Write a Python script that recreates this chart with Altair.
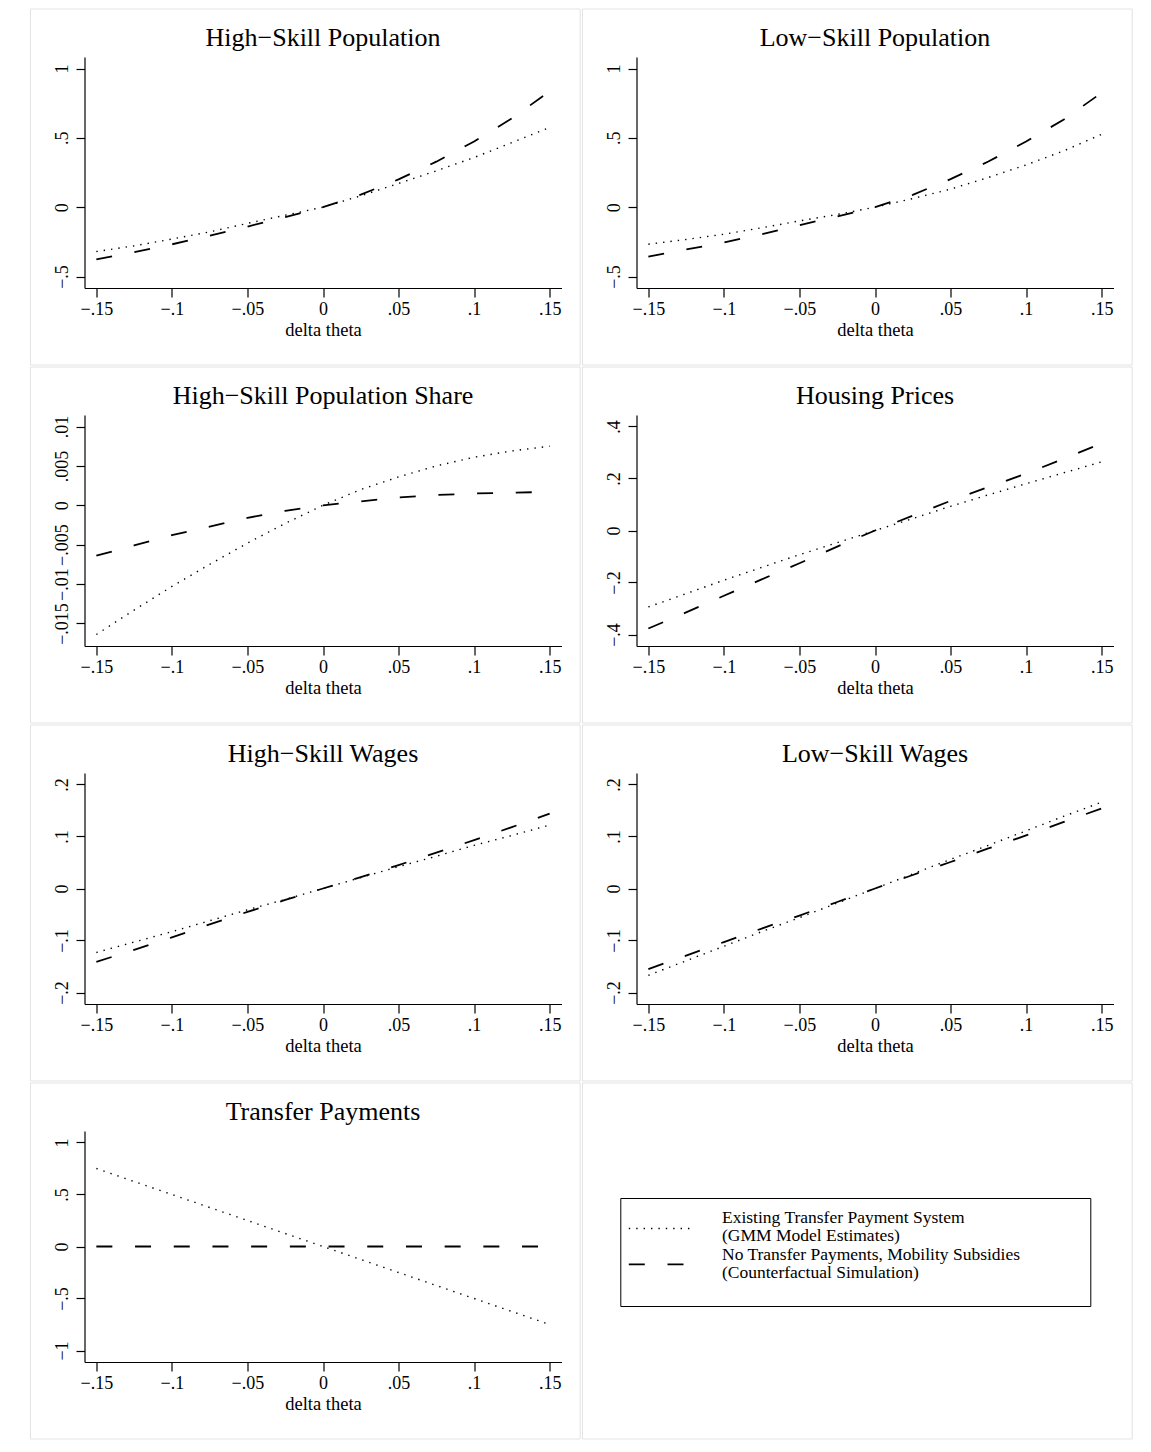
import altair as alt
import pandas as pd

FONT = "Liberation Serif"
M = "\u2212"

# ---------------- data ----------------
x_values = [-0.15, -0.125, -0.1, -0.075, -0.05, -0.025, 0.0,
            0.025, 0.05, 0.075, 0.1, 0.125, 0.15]
x_ticks = [-0.15, -0.1, -0.05, 0.0, 0.05, 0.1, 0.15]

legend_text = [
    "Existing Transfer Payment System\n(GMM Model Estimates)",
    "No Transfer Payments, Mobility Subsidies\n(Counterfactual Simulation)",
]

panel_titles = [
    f"High{M}Skill Population",
    f"Low{M}Skill Population",
    f"High{M}Skill Population Share",
    "Housing Prices",
    f"High{M}Skill Wages",
    f"Low{M}Skill Wages",
    "Transfer Payments",
]

hs_pop_gmm = [-0.320, -0.279, -0.230, -0.178, -0.117, -0.058, 0.0,
              0.082, 0.171, 0.262, 0.358, 0.466, 0.575]
hs_pop_cf = [-0.377, -0.325, -0.268, -0.206, -0.140, -0.072, 0.0,
             0.090, 0.200, 0.328, 0.474, 0.640, 0.835]

ls_pop_gmm = [-0.267, -0.233, -0.195, -0.149, -0.099, -0.053, 0.0,
              0.062, 0.130, 0.214, 0.305, 0.406, 0.526]
ls_pop_cf = [-0.356, -0.305, -0.255, -0.195, -0.130, -0.067, 0.0,
             0.089, 0.202, 0.329, 0.474, 0.632, 0.825]

share_gmm = [-0.0164, -0.0133, -0.0103, -0.0075, -0.0048, -0.0023, 0.0,
             0.0020, 0.0036, 0.0050, 0.0061, 0.0069, 0.0075]
share_cf = [-0.0064, -0.0051, -0.0038, -0.0027, -0.0016, -0.0007, 0.0,
            0.0005, 0.0010, 0.0013, 0.0015, 0.0016, 0.0017]

housing_gmm = [-0.294, -0.243, -0.191, -0.142, -0.093, -0.047, 0.0,
               0.046, 0.093, 0.137, 0.180, 0.222, 0.264]
housing_cf = [-0.377, -0.315, -0.251, -0.188, -0.126, -0.062, 0.0,
              0.057, 0.114, 0.167, 0.219, 0.276, 0.335]

hs_wage_gmm = [-0.123, -0.103, -0.083, -0.062, -0.041, -0.021, 0.0,
               0.021, 0.042, 0.062, 0.083, 0.102, 0.122]
hs_wage_cf = [-0.141, -0.118, -0.094, -0.069, -0.045, -0.022, 0.0,
              0.022, 0.045, 0.069, 0.093, 0.118, 0.144]

ls_wage_gmm = [-0.167, -0.139, -0.111, -0.083, -0.056, -0.028, 0.0,
               0.028, 0.056, 0.083, 0.111, 0.139, 0.166]
ls_wage_cf = [-0.155, -0.129, -0.103, -0.077, -0.052, -0.026, 0.0,
              0.026, 0.051, 0.077, 0.102, 0.128, 0.154]

transfer_gmm = [0.75, 0.625, 0.50, 0.375, 0.25, 0.125, 0.0,
                -0.125, -0.25, -0.375, -0.50, -0.625, -0.75]
transfer_cf = [0.0, 0.0, 0.0, 0.0, 0.0, 0.0, 0.0,
               0.0, 0.0, 0.0, 0.0, 0.0, 0.0]

y_ticks_pop = [-0.5, 0.0, 0.5, 1.0]
y_ticks_share = [-0.015, -0.01, -0.005, 0.0, 0.005, 0.01]
y_ticks_housing = [-0.4, -0.2, 0.0, 0.2, 0.4]
y_ticks_wage = [-0.2, -0.1, 0.0, 0.1, 0.2]
y_ticks_transfer = [-1.0, -0.5, 0.0, 0.5, 1.0]

# (title index, gmm, cf, ticks, range low, range high)
panels_spec = [
    (0, hs_pop_gmm, hs_pop_cf, y_ticks_pop, -0.5, 1.0),
    (1, ls_pop_gmm, ls_pop_cf, y_ticks_pop, -0.5, 1.0),
    (2, share_gmm, share_cf, y_ticks_share, -0.0164, 0.01),
    (3, housing_gmm, housing_cf, y_ticks_housing, -0.4, 0.4),
    (4, hs_wage_gmm, hs_wage_cf, y_ticks_wage, -0.2, 0.2),
    (5, ls_wage_gmm, ls_wage_cf, y_ticks_wage, -0.2, 0.2),
    (6, transfer_gmm, transfer_cf, y_ticks_transfer, -1.0, 1.0),
]

# ---------------- styling ----------------
W, H = 477, 231
XPAD = 0.3 * 11.85 / 453.3
DOT = [1.4, 6.0]
DASH = [16, 22.7]
BORDER = "#e3e3e3"

LABEL_EXPR = (
    "(datum.value < 0 ? '\u2212' : '') + "
    "(datum.value == 0 ? '0' : (abs(datum.value) < 1 ? "
    "substring(format(abs(datum.value), '~g'), 1) : format(abs(datum.value), '~g')))"
)


def cell_border():
    return alt.Chart(alt.Data(values=[{}])).mark_rect(
        fill="transparent", stroke=BORDER, strokeWidth=1
    ).encode(x=alt.value(-54), x2=alt.value(495.7), y=alt.value(-48), y2=alt.value(308))


def panel(ti, gmm, cf, ticks, lo, hi):
    n = len(x_values)
    df = pd.DataFrame({"x": x_values + x_values, "v": gmm + cf,
                       "s": ["gmm"] * n + ["cf"] * n})
    pad = (hi - lo) * 11.5 / 208
    xs = alt.Scale(domain=[-0.15 - XPAD, 0.15 + XPAD], nice=False, zero=False)
    ys = alt.Scale(domain=[lo - pad, hi + pad], nice=False, zero=False)
    base = alt.Chart(df).encode(
        x=alt.X("x:Q", scale=xs,
                axis=alt.Axis(values=x_ticks, title="delta theta", labelExpr=LABEL_EXPR)),
        y=alt.Y("v:Q", scale=ys, title=None,
                axis=alt.Axis(values=ticks, labelExpr=LABEL_EXPR)),
    )
    l_gmm = base.transform_filter(alt.datum.s == "gmm").mark_line(
        color="black", strokeWidth=1.4, strokeDash=DOT)
    l_cf = base.transform_filter(alt.datum.s == "cf").mark_line(
        color="black", strokeWidth=1.8, strokeDash=DASH)
    ttl = alt.Chart(alt.Data(values=[{"t": panel_titles[ti]}])).mark_text(
        font=FONT, fontSize=26, align="center", baseline="alphabetic", color="black"
    ).encode(text="t:N", x=alt.value(W / 2), y=alt.value(-11))
    return alt.layer(cell_border(), l_gmm, l_cf, ttl).properties(width=W, height=H)


def legend_cell():
    one = alt.Data(values=[{}])
    box = alt.Chart(one).mark_rect(fill="transparent", stroke="black", strokeWidth=1).encode(
        x=alt.value(-15.7), x2=alt.value(454.3), y=alt.value(67.5), y2=alt.value(175.5))
    s1 = alt.Chart(one).mark_rule(color="black", strokeWidth=1.4, strokeDash=DOT).encode(
        x=alt.value(-7.7), x2=alt.value(56.3), y=alt.value(97.5))
    s2 = alt.Chart(one).mark_rule(color="black", strokeWidth=1.8, strokeDash=DASH).encode(
        x=alt.value(-7.7), x2=alt.value(56.3), y=alt.value(133.3))
    t1 = alt.Chart(alt.Data(values=[{"t": legend_text[0]}])).mark_text(
        font=FONT, fontSize=17.5, align="left", baseline="alphabetic",
        lineBreak="\n", lineHeight=17.6, color="black"
    ).encode(text="t:N", x=alt.value(85.5), y=alt.value(92.2))
    t2 = alt.Chart(alt.Data(values=[{"t": legend_text[1]}])).mark_text(
        font=FONT, fontSize=17.5, align="left", baseline="alphabetic",
        lineBreak="\n", lineHeight=17.6, color="black"
    ).encode(text="t:N", x=alt.value(85.5), y=alt.value(129.3))
    return alt.layer(cell_border(), box, s1, s2, t1, t2).properties(width=W, height=H)


charts = [panel(*p) for p in panels_spec] + [legend_cell()]

chart = alt.concat(*charts, columns=2, spacing=0).properties(
    padding={"left": 21.5, "top": 0, "right": 5, "bottom": 5},
    background="white",
).configure_view(
    strokeWidth=0
).configure_axis(
    domainColor="black", tickColor="black", labelColor="black", titleColor="black",
    labelFont=FONT, titleFont=FONT, labelFontSize=18, titleFontSize=18.5,
    titleFontWeight="normal", grid=False, labelFlush=False, labelOverlap=False,
    domainWidth=1.2, tickWidth=1.2,
).configure_axisX(
    tickSize=9, labelPadding=3, titlePadding=2,
).configure_axisY(
    tickSize=8.5, labelPadding=8.5, labelAngle=270, labelAlign="center",
    labelBaseline="alphabetic",
)

chart.save("out.html", embed_options={"renderer": "svg", "actions": False})
